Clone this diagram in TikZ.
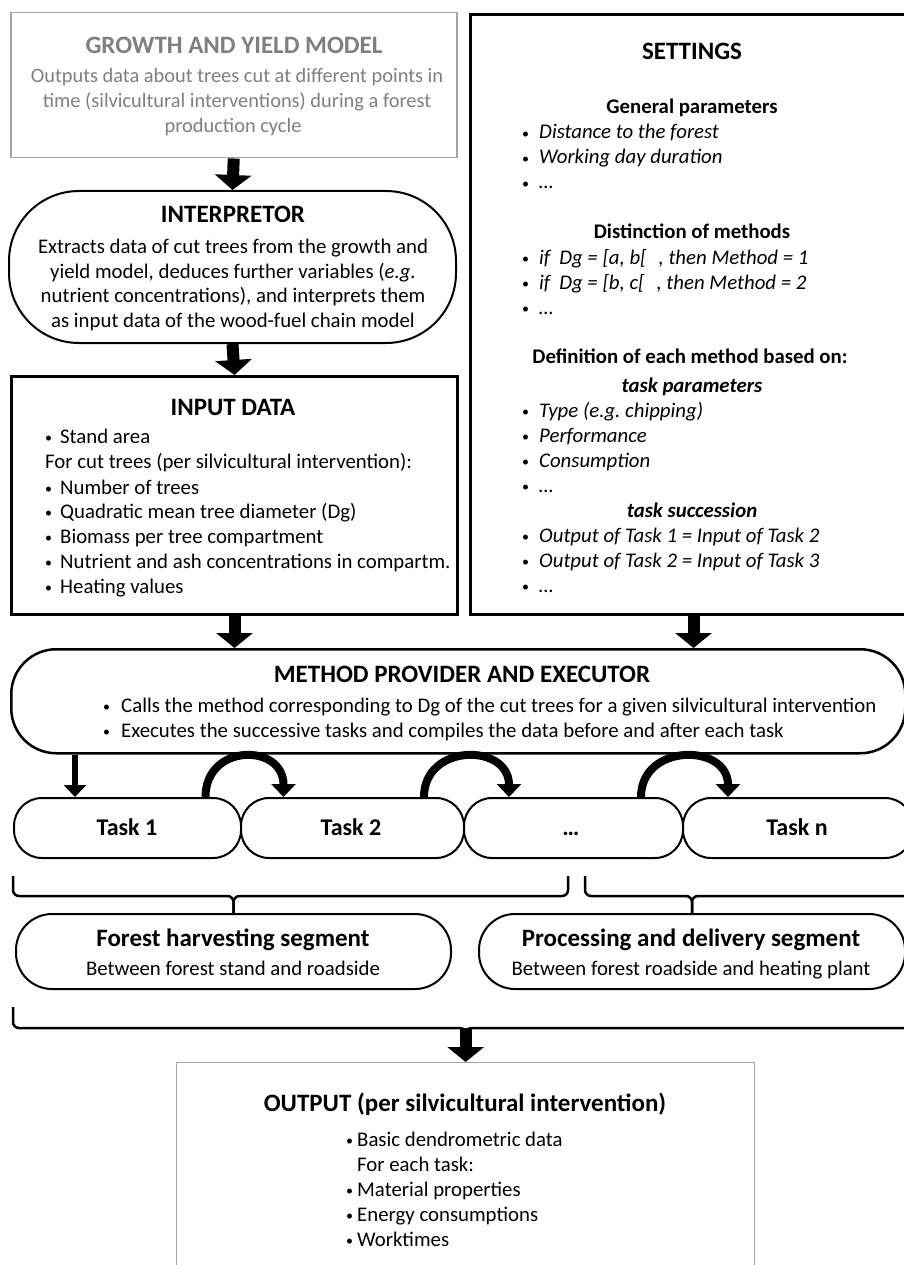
\documentclass[tikz,border=0pt]{standalone}
\usepackage{fontspec}
\setmainfont{Carlito}
\usetikzlibrary{arrows.meta}
\definecolor{gtext}{RGB}{127,127,127}
\definecolor{gline}{RGB}{165,165,165}
\newcommand\bul{\raisebox{0.6pt}{\fontsize{14}{14}\selectfont•}}
\frenchspacing
\begin{document}
\begin{tikzpicture}[x=1pt,y=-1pt,
  ttl/.style={font=\fontsize{25}{29}\selectfont\bfseries, inner sep=0pt, anchor=base},
  txt/.style={font=\fontsize{20.8}{25}\selectfont, inner sep=0pt, anchor=base},
  txtl/.style={font=\fontsize{20.8}{25}\selectfont, inner sep=0pt, anchor=base west},
  subh/.style={font=\fontsize{20.8}{25}\selectfont\bfseries, inner sep=0pt, anchor=base},
  subi/.style={font=\fontsize{20.8}{25}\selectfont\bfseries\itshape, inner sep=0pt, anchor=base},
  tsk/.style={font=\fontsize{24}{29}\selectfont\bfseries, inner sep=0pt, anchor=base},
  frame/.style={draw, fill=white, inner sep=0pt, anchor=north west},
  taskbox/.style={frame, line width=2pt, rounded corners=28pt, minimum height=60pt},
  segbox/.style={frame, line width=2pt, rounded corners=36pt, minimum height=75pt},
  bigarrow/.style={line width=12pt, -{Triangle[width=36pt,length=15pt]}},
  thinarrow/.style={line width=6pt, -{Triangle[width=22pt,length=12pt]}},
  curvearrow/.style={line width=8pt, -{Triangle[width=24pt,length=13pt]}},
  brc/.style={line width=2.5pt, rounded corners=6pt},
]
\useasboundingbox (0,0) rectangle (903,1265);
\fill[white] (0,0) rectangle (903,1265);

% ---------- boxes ----------
\node[frame, draw=gline, line width=1.5pt, minimum width=446pt, minimum height=145pt] (growth) at (10,12) {};
\node[frame, line width=2pt, rounded corners=70pt, minimum width=447pt, minimum height=152pt] (interp) at (8,190) {};
\node[frame, line width=3pt, minimum width=446pt, minimum height=238pt] (input) at (10,375) {};
\node[frame, line width=3pt, minimum width=446pt, minimum height=600pt] (settings) at (469,13) {};
\node[frame, line width=2.5pt, rounded corners=45pt, minimum width=894pt, minimum height=104pt] (method) at (10,648) {};
\node[taskbox, minimum width=227pt] (t1) at (13,797) {};
\node[taskbox, minimum width=223pt] (t2) at (240,797) {};
\node[taskbox, minimum width=219pt] (t3) at (463,797) {};
\node[taskbox, minimum width=230pt] (tn) at (682,797) {};
\node[segbox, minimum width=435pt] (forest) at (15,913) {};
\node[segbox, minimum width=426pt] (proc) at (478,913) {};
\node[frame, draw=gline, line width=1.3pt, minimum width=578pt, minimum height=260pt] (out) at (176,1062) {};

% ---------- block arrows ----------
\draw[bigarrow] (growth.south) -- (interp.north);
\draw[bigarrow] (interp.south) -- (input.north);
\draw[bigarrow] (input.south) -- (input.south |- method.north);
\draw[bigarrow] (settings.south) -- (settings.south |- method.north);

% ---------- task arrows ----------
\draw[thinarrow] ([xshift=-52.5pt]t1.north |- method.south) -- ([xshift=-52.5pt]t1.north);
\draw[curvearrow] ([xshift=78pt]t1.north) .. controls +(0,-54) and +(0,-54) .. ([xshift=-69pt]t2.north);
\draw[curvearrow] ([xshift=71.5pt]t2.north) .. controls +(0,-54) and +(0,-54) .. ([xshift=-64.5pt]t3.north);
\draw[curvearrow] ([xshift=67.5pt]t3.north) .. controls +(0,-54) and +(0,-54) .. ([xshift=-70pt]tn.north);

% ---------- braces ----------
\coordinate (b1l) at (13,876);
\coordinate (b1r) at (568,876);
\coordinate (b1bar) at (0,896);
\coordinate (b2l) at (585,876);
\coordinate (b2r) at (930,876);
\coordinate (b3l) at (13,1007);
\coordinate (b3r) at (930,1007);
\coordinate (b3bar) at (0,1028);
\draw[brc] (b1l) |- (forest.north |- b1bar) -- (forest.north);
\draw[brc] (b1r) |- (forest.north |- b1bar) -- (forest.north);
\draw[brc] (b2l) |- (proc.north |- b1bar) -- (proc.north);
\draw[brc] (b2r) |- (proc.north |- b1bar) -- (proc.north);
\draw[brc] (b3l) |- (out.north |- b3bar) -- ([yshift=-8pt]out.north |- b3bar);
\draw[brc] (b3r) |- (out.north |- b3bar) -- ([yshift=-8pt]out.north |- b3bar);
\draw[bigarrow] (out.north |- b3bar) -- (out.north);

% ---------- growth text ----------
\node[ttl, text=gtext] (gT) at (234,54) {GROWTH AND YIELD MODEL};
\node[txt, text=gtext, font=\fontsize{20.4}{25}\selectfont] (g1) at (237,83) {Outputs data about trees cut at different points in};
\node[txt, text=gtext, font=\fontsize{20.4}{25}\selectfont] (g2) at (237,108) {time (silvicultural interventions) during a forest};
\node[txt, text=gtext, font=\fontsize{20.4}{25}\selectfont] (g3) at (233,133) {production cycle};

% ---------- interpretor text ----------
\node[ttl] (iT) at (233,223) {INTERPRETOR};
\node[txt] (i1) at (233,253) {Extracts data of cut trees from the growth and};
\node[txt] (i2) at (233,278) {yield model, deduces further variables (\textit{e.g.}};
\node[txt] (i3) at (233,302) {nutrient concentrations), and interprets them};
\node[txt] (i4) at (233,327) {as input data of the wood-fuel chain model};

% ---------- input data text ----------
\node[ttl] (dT) at (233,415) {INPUT DATA};
\node[txtl] (d1) at (45,443) {\makebox[15pt][l]{\bul}Stand area};
\node[txtl] (d2) at (45,468) {For cut trees (per silvicultural intervention):};
\node[txtl] (d3) at (45,494) {\makebox[15pt][l]{\bul}Number of trees};
\node[txtl] (d4) at (45,518) {\makebox[15pt][l]{\bul}Quadratic mean tree diameter (Dg)};
\node[txtl] (d5) at (45,543) {\makebox[15pt][l]{\bul}Biomass per tree compartment};
\node[txtl] (d6) at (45,568) {\makebox[15pt][l]{\bul}Nutrient and ash concentrations in compartm.};
\node[txtl] (d7) at (45,593) {\makebox[15pt][l]{\bul}Heating values};

% ---------- settings text ----------
\node[ttl] (sT) at (692,60) {SETTINGS};
\node[subh] (s1) at (692,114) {General parameters};
\node[txtl] (s2) at (522,139) {\makebox[17pt][l]{\bul}\textit{Distance to the forest}};
\node[txtl] (s3) at (522,164) {\makebox[17pt][l]{\bul}\textit{Working day duration}};
\node[txtl] (s4) at (522,189) {\makebox[17pt][l]{\bul}\textit{…}};
\node[subh] (s5) at (692,239) {Distinction of methods};
\node[txtl] (s6) at (522,264) {\makebox[17pt][l]{\bul}\textit{if\hspace{9pt}Dg = [a, b[\hspace{12pt}, then Method = 1}};
\node[txtl] (s7) at (522,289) {\makebox[17pt][l]{\bul}\textit{if\hspace{9pt}Dg = [b, c[\hspace{12pt}, then Method = 2}};
\node[txtl] (s8) at (522,314) {\makebox[17pt][l]{\bul}\textit{…}};
\node[subh] (s9) at (690,363) {Definition of each method based on:};
\node[subi] (s10) at (692,392) {task parameters};
\node[txtl] (s11) at (522,417) {\makebox[17pt][l]{\bul}\textit{Type (e.g. chipping)}};
\node[txtl] (s12) at (522,442) {\makebox[17pt][l]{\bul}\textit{Performance}};
\node[txtl] (s13) at (522,467) {\makebox[17pt][l]{\bul}\textit{Consumption}};
\node[txtl] (s14) at (522,492) {\makebox[17pt][l]{\bul}\textit{…}};
\node[subi] (s15) at (692,517) {task succession};
\node[txtl] (s16) at (522,542) {\makebox[17pt][l]{\bul}\textit{Output of Task 1 = Input of Task 2}};
\node[txtl] (s17) at (522,567) {\makebox[17pt][l]{\bul}\textit{Output of Task 2 = Input of Task 3}};
\node[txtl] (s18) at (522,592) {\makebox[17pt][l]{\bul}\textit{…}};

% ---------- method text ----------
\node[ttl] (mT) at (462,682) {METHOD PROVIDER AND EXECUTOR};
\node[txtl] (m1) at (103,712) {\makebox[18pt][l]{\bul}Calls the method corresponding to Dg of the cut trees for a given silvicultural intervention};
\node[txtl] (m2) at (103,737) {\makebox[18pt][l]{\bul}Executes the successive tasks and compiles the data before and after each task};

% ---------- task labels ----------
\node[tsk] (l1) at (127,835) {Task 1};
\node[tsk] (l2) at (351,835) {Task 2};
\node[tsk] (l3) at (571,835) {…};
\node[tsk] (ln) at (797,835) {Task n};

% ---------- segments ----------
\node[ttl] (fT) at (233,946) {Forest harvesting segment};
\node[txt] (f1) at (233,975) {Between forest stand and roadside};
\node[ttl] (pT) at (691,946) {Processing and delivery segment};
\node[txt] (p1) at (691,975) {Between forest roadside and heating plant};

% ---------- output ----------
\node[ttl] (oT) at (465,1111) {OUTPUT (per silvicultural intervention)};
\node[txtl] (o1) at (346,1146) {\makebox[11pt][l]{\bul}Basic dendrometric data};
\node[txtl] (o2) at (357,1171) {For each task:};
\node[txtl] (o3) at (346,1196) {\makebox[11pt][l]{\bul}Material properties};
\node[txtl] (o4) at (346,1221) {\makebox[11pt][l]{\bul}Energy consumptions};
\node[txtl] (o5) at (346,1246) {\makebox[11pt][l]{\bul}Worktimes};
\end{tikzpicture}
\end{document}
